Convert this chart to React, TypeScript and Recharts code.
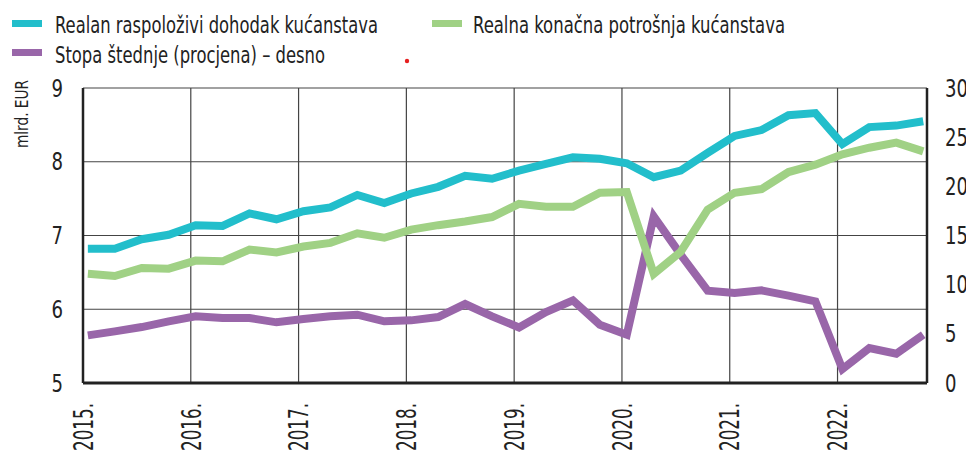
import React from 'react';
import { LineChart, Line, XAxis, YAxis, CartesianGrid } from 'recharts';

const periods = [
  '2015-Q1','2015-Q2','2015-Q3','2015-Q4',
  '2016-Q1','2016-Q2','2016-Q3','2016-Q4',
  '2017-Q1','2017-Q2','2017-Q3','2017-Q4',
  '2018-Q1','2018-Q2','2018-Q3','2018-Q4',
  '2019-Q1','2019-Q2','2019-Q3','2019-Q4',
  '2020-Q1','2020-Q2','2020-Q3','2020-Q4',
  '2021-Q1','2021-Q2','2021-Q3','2021-Q4',
  '2022-Q1','2022-Q2','2022-Q3','2022-Q4',
];

const dohodak = [6.82, 6.82, 6.95, 7.01, 7.14, 7.13, 7.30, 7.22, 7.33, 7.38, 7.55, 7.44, 7.57, 7.66, 7.81, 7.77, 7.88, 7.97, 8.06, 8.04, 7.98, 7.79, 7.88, 8.12, 8.35, 8.43, 8.63, 8.66, 8.24, 8.47, 8.49, 8.55];
const potrosnja = [6.48, 6.45, 6.56, 6.55, 6.66, 6.65, 6.81, 6.77, 6.85, 6.90, 7.03, 6.97, 7.08, 7.14, 7.19, 7.25, 7.43, 7.39, 7.39, 7.58, 7.59, 6.48, 6.78, 7.35, 7.58, 7.63, 7.86, 7.96, 8.10, 8.19, 8.26, 8.14];
const stopaStednje = [4.84, 5.25, 5.69, 6.27, 6.78, 6.61, 6.61, 6.17, 6.51, 6.78, 6.95, 6.27, 6.37, 6.71, 8.03, 6.78, 5.65, 7.22, 8.40, 5.93, 4.91, 16.94, 13.05, 9.39, 9.15, 9.42, 8.88, 8.30, 1.42, 3.56, 2.98, 4.91];

const yearTicks = [2015, 2016, 2017, 2018, 2019, 2020, 2021, 2022];
const leftTicks = [5, 6, 7, 8, 9];
const rightTicks = [0, 5, 10, 15, 20, 25, 30];

const seriesNames = {
  dohodak: 'Realan raspoloživi dohodak kućanstava',
  potrosnja: 'Realna konačna potrošnja kućanstava',
  stopa: 'Stopa štednje (procjena) – desno',
};
const yLabel = 'mlrd. EUR';

const COLORS = { dohodak: '#22BECB', potrosnja: '#A0D185', stopa: '#9966A9' };
const NARROW = "'DejaVu Sans Condensed', 'DejaVu Sans', sans-serif";
const INK = '#222';

// point at mid of first month of the quarter
const toTime = (p: string) => {
  const [y, q] = p.split('-Q');
  return Number(y) + (Number(q) - 1) / 4 + 0.045;
};

const data = periods.map((p, i) => ({
  t: toTime(p),
  dohodak: dohodak[i],
  potrosnja: potrosnja[i],
  stopa: stopaStednje[i],
}));

const XTick = (props: any) => {
  const { x, payload } = props;
  const y = 403;
  const label = `${payload.value}.`;
  return (
    <text
      x={x}
      y={y}
      dy="0.36em"
      transform={`rotate(-90, ${x}, ${y})`}
      textAnchor="end"
      fontFamily={NARROW}
      fontSize={27}
      fill={INK}
      textLength={48}
      lengthAdjust="spacingAndGlyphs"
    >
      {label}
    </text>
  );
};

const YTickLeft = (props: any) => {
  const { x, y, payload } = props;
  const label = String(payload.value);
  return (
    <text
      x={x}
      y={y}
      dy="0.36em"
      textAnchor="end"
      fontFamily={NARROW}
      fontSize={24}
      fill={INK}
      textLength={label.length * 11.5}
      lengthAdjust="spacingAndGlyphs"
    >
      {label}
    </text>
  );
};

const YTickRight = (props: any) => {
  const { x, y, payload } = props;
  const label = String(payload.value);
  return (
    <text
      x={x}
      y={y}
      dy="0.36em"
      textAnchor="start"
      fontFamily={NARROW}
      fontSize={24}
      fill={INK}
      textLength={label.length * 11.5}
      lengthAdjust="spacingAndGlyphs"
    >
      {label}
    </text>
  );
};

export default function App() {
  return (
    <div style={{ position: 'absolute', left: 0, top: 0, width: 966, height: 451, background: '#fff' }}>
      <LineChart
        width={966}
        height={451}
        data={data}
        margin={{ top: 88, right: 0, bottom: 0, left: 0 }}
      >
        <CartesianGrid stroke="#444" strokeWidth={1.2} xAxisId="b" yAxisId="left" />
        <XAxis
          xAxisId="b"
          dataKey="t"
          type="number"
          domain={[2015, 2022.83]}
          ticks={yearTicks}
          allowDataOverflow
          height={68}
          tickLine={false}
          axisLine={{ stroke: INK, strokeWidth: 3 }}
          tick={<XTick />}
          interval={0}
        />
        <XAxis
          xAxisId="top"
          orientation="top"
          dataKey="t"
          type="number"
          domain={[2015, 2022.83]}
          ticks={yearTicks}
          height={0}
          tick={false}
          tickLine={false}
          axisLine={{ stroke: INK, strokeWidth: 2 }}
        />
        <YAxis
          yAxisId="left"
          domain={[5, 9]}
          ticks={leftTicks}
          width={83}
          tickSize={0}
          tickMargin={20}
          tickLine={false}
          axisLine={{ stroke: INK, strokeWidth: 2.5 }}
          tick={<YTickLeft />}
          interval={0}
        />
        <YAxis
          yAxisId="right"
          orientation="right"
          domain={[0, 30]}
          ticks={rightTicks}
          width={39}
          tickSize={0}
          tickMargin={18}
          tickLine={false}
          axisLine={{ stroke: INK, strokeWidth: 2.5 }}
          tick={<YTickRight />}
          interval={0}
        />
        <Line
          xAxisId="b"
          yAxisId="right"
          dataKey="stopa"
          name={seriesNames.stopa}
          stroke={COLORS.stopa}
          strokeWidth={8}
          dot={false}
          type="linear"
          isAnimationActive={false}
        />
        <Line
          xAxisId="b"
          yAxisId="left"
          dataKey="potrosnja"
          name={seriesNames.potrosnja}
          stroke={COLORS.potrosnja}
          strokeWidth={8}
          dot={false}
          type="linear"
          isAnimationActive={false}
        />
        <Line
          xAxisId="b"
          yAxisId="left"
          dataKey="dohodak"
          name={seriesNames.dohodak}
          stroke={COLORS.dohodak}
          strokeWidth={8}
          dot={false}
          type="linear"
          isAnimationActive={false}
        />
      </LineChart>
      <svg
        width={966}
        height={451}
        style={{ position: 'absolute', left: 0, top: 0, pointerEvents: 'none' }}
      >
        <rect x={12} y={20} width={30} height={7} fill={COLORS.dohodak} />
        <text x={55} y={33} fontFamily={NARROW} fontSize={23} fill={INK} textLength={323} lengthAdjust="spacingAndGlyphs">{seriesNames.dohodak}</text>
        <rect x={432} y={20} width={30} height={7} fill={COLORS.potrosnja} />
        <text x={473} y={33} fontFamily={NARROW} fontSize={23} fill={INK} textLength={312} lengthAdjust="spacingAndGlyphs">{seriesNames.potrosnja}</text>
        <rect x={12} y={49} width={30} height={7} fill={COLORS.stopa} />
        <text x={55} y={63} fontFamily={NARROW} fontSize={23} fill={INK} textLength={270} lengthAdjust="spacingAndGlyphs">{seriesNames.stopa}</text>
        <circle cx={407} cy={61} r={2.2} fill="#e62020" />
        <text
          x={22}
          y={114}
          dy="0.36em"
          transform="rotate(-90, 22, 114)"
          textAnchor="middle"
          fontFamily={NARROW}
          fontSize={17}
          fill={INK}
          textLength={68}
          lengthAdjust="spacingAndGlyphs"
        >
          {yLabel}
        </text>
      </svg>
    </div>
  );
}
